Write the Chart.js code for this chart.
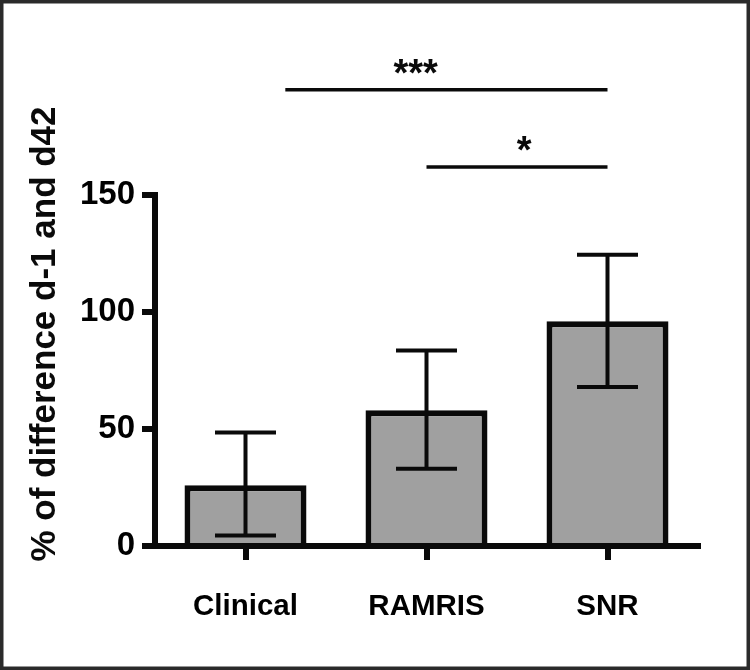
<!DOCTYPE html>
<html><head><meta charset="utf-8">
<script src="https://cdn.jsdelivr.net/npm/chart.js"></script>
<style>html,body{margin:0;padding:0;background:#fff;}#wrap{width:750px;height:670px;position:relative;}</style>
</head><body><div id="wrap"><canvas id="c" width="750" height="670"></canvas></div>
<script>
// ---- data ----
const categories = ['Clinical', 'RAMRIS', 'SNR'];
const means = [26, 58, 96];
const errLow = [4.5, 33, 68];
const errHigh = [48.5, 83.5, 124.5];
const yTicks = [0, 50, 100, 150];
const yTitle = '% of difference d-1 and d42';
// significance brackets (x in category index units, y in data units)
const sigFrom = [0.22, 1];
const sigTo = [2, 2];
const sigLevel = [195, 162];
const sigText = ['***', '*'];
const sigTextX = [0.94, 1.54];
const sigTextLevel = [205, 172];

const FAMILY = '"Liberation Sans", Arial, Helvetica, sans-serif';
const INK = '#0a0a0a';

const errorBars = {
  id: 'errorBars',
  afterDatasetsDraw(chart) {
    const { ctx, scales: { y } } = chart;
    const meta = chart.getDatasetMeta(0);
    ctx.save();
    ctx.strokeStyle = INK;
    ctx.lineWidth = 4;
    ctx.lineCap = 'butt';
    meta.data.forEach((bar, i) => {
      const cx = bar.x;
      const yl = y.getPixelForValue(errLow[i]);
      const yh = y.getPixelForValue(errHigh[i]);
      const hw = bar.width / 4;
      ctx.beginPath();
      ctx.moveTo(cx, yh); ctx.lineTo(cx, yl);
      ctx.moveTo(cx - hw, yh); ctx.lineTo(cx + hw, yh);
      ctx.moveTo(cx - hw, yl); ctx.lineTo(cx + hw, yl);
      ctx.stroke();
    });
    ctx.restore();
  }
};

const extras = {
  id: 'extras',
  afterDraw(chart) {
    const { ctx, scales: { x, y } } = chart;
    ctx.save();
    // significance lines
    ctx.strokeStyle = INK;
    ctx.lineWidth = 3.5;
    sigFrom.forEach((f, i) => {
      const py = y.getPixelForValue(sigLevel[i]);
      ctx.beginPath();
      ctx.moveTo(x.getPixelForValue(f), py);
      ctx.lineTo(x.getPixelForValue(sigTo[i]), py);
      ctx.stroke();
    });
    ctx.fillStyle = INK;
    ctx.font = 'bold 38px ' + FAMILY;
    ctx.textAlign = 'center';
    ctx.textBaseline = 'alphabetic';
    sigText.forEach((t, i) => {
      const m = ctx.measureText(t);
      const cy = y.getPixelForValue(sigTextLevel[i]);
      const base = cy + (m.actualBoundingBoxAscent - m.actualBoundingBoxDescent) / 2;
      ctx.fillText(t, x.getPixelForValue(sigTextX[i]), base);
    });
    // y-axis title
    ctx.save();
    ctx.translate(45, 334);
    ctx.rotate(-Math.PI / 2);
    ctx.font = 'bold 35px ' + FAMILY;
    ctx.textAlign = 'center';
    ctx.textBaseline = 'middle';
    ctx.fillText(yTitle, 0, 0);
    ctx.restore();
    // frame
    ctx.strokeStyle = '#2a2a2a';
    ctx.lineWidth = 3.5;
    ctx.strokeRect(1.75, 1.75, chart.width - 3.5, chart.height - 3.5);
    ctx.restore();
  }
};

new Chart(document.getElementById('c'), {
  type: 'bar',
  data: {
    labels: categories,
    datasets: [{
      data: means,
      backgroundColor: '#a0a0a0',
      borderColor: INK,
      borderWidth: 6,
      borderSkipped: 'start',
      barPercentage: 0.674,
      categoryPercentage: 1
    }]
  },
  options: {
    responsive: false,
    animation: false,
    devicePixelRatio: 1,
    layout: { padding: { left: 0, right: 52, top: 195, bottom: 0 } },
    plugins: { legend: { display: false }, tooltip: { enabled: false } },
    scales: {
      x: {
        z: 1,
        offset: true,
        afterFit: s => { s.height = 124; },
        grid: { display: true, drawOnChartArea: false, offset: false, tickLength: 14, lineWidth: 6, color: INK },
        border: { display: true, width: 6, color: INK },
        ticks: { color: '#000', padding: 29, font: { family: FAMILY, size: 29.5, weight: 'bold' } }
      },
      y: {
        z: 1,
        min: 0, max: 150,
        afterBuildTicks: s => { s.ticks = yTicks.map(v => ({ value: v })); },
        afterFit: s => { s.width = 155; },
        grid: { display: true, drawOnChartArea: false, tickLength: 13, lineWidth: 6, color: INK },
        border: { display: true, width: 6, color: INK },
        ticks: { color: '#000', padding: 7, font: { family: FAMILY, size: 33, weight: 'bold' } }
      }
    }
  },
  plugins: [errorBars, extras]
});
</script>
</body></html>
